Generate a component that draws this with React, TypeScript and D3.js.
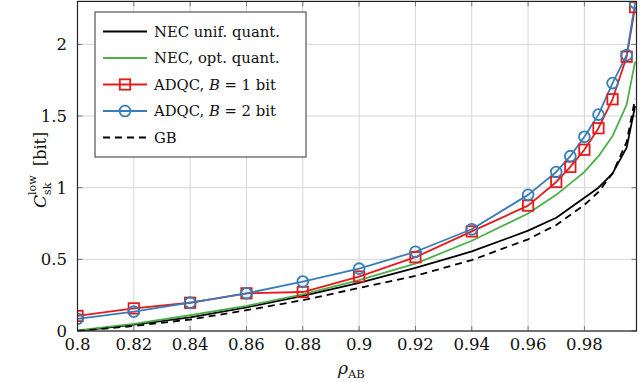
import * as d3 from 'd3';

// correlation coefficient values where the curves are sampled
const rho = [0.8, 0.82, 0.84, 0.86, 0.88, 0.9, 0.92, 0.94, 0.96, 0.97, 0.975, 0.98, 0.985, 0.99, 0.995, 0.998];

// secret key rate lower bound [bit]
const necUnif = [0.0, 0.045, 0.095, 0.165, 0.245, 0.335, 0.44, 0.555, 0.7, 0.79, 0.86, 0.93, 1.0, 1.1, 1.28, 1.57];
const necOpt = [0.005, 0.05, 0.11, 0.175, 0.255, 0.355, 0.47, 0.63, 0.82, 0.95, 1.03, 1.11, 1.22, 1.36, 1.58, 1.88];
const adqc1 = [0.105, 0.158, 0.197, 0.263, 0.272, 0.38, 0.515, 0.695, 0.875, 1.04, 1.145, 1.265, 1.415, 1.617, 1.914, 2.26];
const adqc2 = [0.085, 0.135, 0.198, 0.263, 0.345, 0.435, 0.553, 0.71, 0.95, 1.11, 1.22, 1.355, 1.51, 1.73, 1.925, 2.29];
const gb = [0.0, 0.035, 0.08, 0.145, 0.215, 0.3, 0.385, 0.495, 0.64, 0.74, 0.81, 0.88, 0.97, 1.1, 1.32, 1.62];

const xTicks = [0.8, 0.82, 0.84, 0.86, 0.88, 0.9, 0.92, 0.94, 0.96, 0.98];
const yTicks = [0, 0.5, 1, 1.5, 2];

const FONT = '"DejaVu Serif", serif';
const BLUE = '#377eb8';
const RED = '#e41a1c';
const GREEN = '#4daf4a';

const series = [
  { name: 'unif', values: necUnif, color: '#000', dash: null, mark: null },
  { name: 'opt', values: necOpt, color: GREEN, dash: null, mark: null },
  { name: 'gb', values: gb, color: '#000', dash: '7 5', mark: null },
  { name: 'b1', values: adqc1, color: RED, dash: null, mark: 'square' },
  { name: 'b2', values: adqc2, color: BLUE, dash: null, mark: 'circle' },
];

const Mark = ({ type, cx, cy, color }) =>
  type === 'square' ? (
    <rect x={cx - 5.2} y={cy - 5.2} width={10.4} height={10.4} fill="none" stroke={color} strokeWidth={1.8} />
  ) : type === 'circle' ? (
    <circle cx={cx} cy={cy} r={5.4} fill="none" stroke={color} strokeWidth={1.8} />
  ) : null;

export default function App() {
  const left = 77.5, right = 636.5, top = 1.4, bottom = 331;
  const x = d3.scaleLinear().domain([0.8, 0.9985]).range([left, right]);
  const y = d3.scaleLinear().domain([0, 2.3]).range([bottom, top]);

  const line = d3.line<number>()
    .x((_, i) => x(rho[i]))
    .y(d => y(d));

  const legend = [
    { mark: null, color: '#000', dash: null, label: <tspan>NEC unif. quant.</tspan> },
    { mark: null, color: GREEN, dash: null, label: <tspan>NEC, opt. quant.</tspan> },
    {
      mark: 'square', color: RED, dash: null,
      label: <><tspan>ADQC, </tspan><tspan fontStyle="italic">B</tspan><tspan> = 1 bit</tspan></>,
    },
    {
      mark: 'circle', color: BLUE, dash: null,
      label: <><tspan>ADQC, </tspan><tspan fontStyle="italic">B</tspan><tspan> = 2 bit</tspan></>,
    },
    { mark: null, color: '#000', dash: '7 5', label: <tspan>GB</tspan> },
  ];

  return (
    <svg width={640} height={382} style={{ position: 'absolute', left: 0, top: 0, background: '#fff' }}
      fontFamily={FONT}>
      <defs>
        <clipPath id="plot">
          <rect x={left} y={top} width={right - left} height={bottom - top} />
        </clipPath>
      </defs>

      {/* grid */}
      <g stroke="#d6d6d6" strokeWidth={1}>
        {xTicks.map(t => <line key={'gx' + t} x1={x(t)} x2={x(t)} y1={top} y2={bottom} />)}
        {yTicks.map(t => <line key={'gy' + t} x1={left} x2={right} y1={y(t)} y2={y(t)} />)}
      </g>

      {/* inward ticks on all sides */}
      <g stroke="#777" strokeWidth={1}>
        {xTicks.map(t => (
          <g key={'tx' + t}>
            <line x1={x(t)} x2={x(t)} y1={bottom} y2={bottom - 5} />
            <line x1={x(t)} x2={x(t)} y1={top} y2={top + 5} />
          </g>
        ))}
        {yTicks.map(t => (
          <g key={'ty' + t}>
            <line x1={left} x2={left + 5} y1={y(t)} y2={y(t)} />
            <line x1={right} x2={right - 5} y1={y(t)} y2={y(t)} />
          </g>
        ))}
      </g>

      {/* curves */}
      <g clipPath="url(#plot)">
        {series.map(s => (
          <path key={s.name} d={line(s.values) || ''} fill="none" stroke={s.color}
            strokeWidth={1.8} strokeDasharray={s.dash || undefined} strokeLinejoin="round" />
        ))}
        {series.filter(s => s.mark).map(s => (
          <g key={'m' + s.name}>
            {s.values.map((v, i) => (
              <Mark key={i} type={s.mark} cx={x(rho[i])} cy={y(v)} color={s.color} />
            ))}
          </g>
        ))}
      </g>

      {/* frame */}
      <rect x={left} y={top} width={right - left} height={bottom - top} fill="none" stroke="#222" strokeWidth={1.2} />

      {/* tick labels */}
      <g fontSize={16.5} fill="#111">
        {xTicks.map(t => (
          <text key={'lx' + t} x={x(t)} y={350} textAnchor="middle">{d3.format('')(t)}</text>
        ))}
        {yTicks.map(t => (
          <text key={'ly' + t} x={67} y={y(t) + 6} textAnchor="end">{d3.format('')(t)}</text>
        ))}
      </g>

      {/* x label */}
      <text x={338} y={374} fontSize={17} fill="#111">
        <tspan fontStyle="italic">ρ</tspan>
        <tspan fontSize={11.5} dy={4}>AB</tspan>
      </text>

      {/* y label */}
      <g transform="translate(40,166) rotate(-90)" fill="#111">
        <text x={-42} y={6} fontSize={17} fontStyle="italic">C</text>
        <text x={-29} y={-4} fontSize={11}>low</text>
        <text x={-29} y={11} fontSize={11}>sk</text>
        <text x={0} y={6} fontSize={16}>[bit]</text>
      </g>

      {/* legend */}
      <g>
        <rect x={95} y={12} width={211} height={145} fill="#fff" stroke="#333" strokeWidth={1} />
        {legend.map((l, i) => {
          const cy = 31.5 + i * 26.5;
          return (
            <g key={'lg' + i}>
              <line x1={103} x2={147} y1={cy} y2={cy} stroke={l.color} strokeWidth={1.8}
                strokeDasharray={l.dash || undefined} />
              <Mark type={l.mark} cx={125} cy={cy} color={l.color} />
              <text x={154} y={cy + 5} fontSize={14.8} fill="#111">{l.label}</text>
            </g>
          );
        })}
      </g>
    </svg>
  );
}
